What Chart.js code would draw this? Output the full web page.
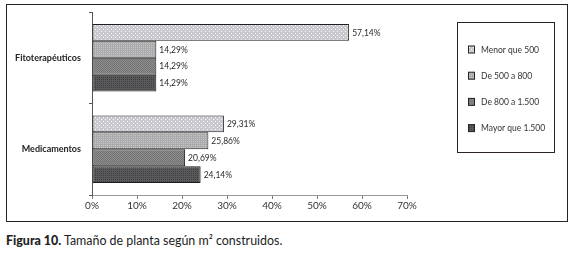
<!DOCTYPE html>
<html><head><meta charset="utf-8">
<script src="https://cdn.jsdelivr.net/npm/chart.js@4.4.1/dist/chart.umd.min.js"></script>
<style>
html,body{margin:0;padding:0;background:#fff;width:572px;height:254px;overflow:hidden}
#frame{position:absolute;left:6px;top:4px;width:560px;height:216px;border:1px solid #2a2226}
#cap{position:absolute;left:6px;top:232px;font-family:Lato,"Open Sans",sans-serif;font-size:13.5px;color:#222;white-space:nowrap;transform:scaleX(0.92);transform-origin:left top}
#cap b{font-weight:900}
</style></head>
<body>
<div id="frame"><canvas id="c" width="560" height="216"></canvas></div>
<div id="cap"><b>Figura 10.</b> Tamaño de planta según m² construidos.</div>
<script>
const categories = ["Fitoterapéuticos", "Medicamentos"];
const seriesNames = ["Menor que 500", "De 500 a 800", "De 800 a 1.500", "Mayor que 1.500"];
const menorQue500 = [57.14, 29.31];
const de500a800 = [14.29, 25.86];
const de800a1500 = [14.29, 20.69];
const mayorQue1500 = [14.29, 24.14];
const xTicks = [0, 10, 20, 30, 40, 50, 60, 70];

function pattern(base, dot, cells) {
  const p = document.createElement('canvas');
  p.width = 4; p.height = 4;
  const g = p.getContext('2d');
  g.fillStyle = base; g.fillRect(0, 0, 4, 4);
  g.fillStyle = dot;
  cells.forEach(([x, y]) => g.fillRect(x, y, 1, 1));
  return g.createPattern(p, 'repeat');
}
const ctx0 = document.getElementById('c').getContext('2d');
const fills = [
  pattern('#c8c8ce', '#ffffff', [[0,0],[2,2]]),
  pattern('#aaaaac', '#c8c8ca', [[0,0],[2,0],[0,2],[2,2]]),
  pattern('#8e8e8e', '#727274', [[0,0],[2,0],[1,1],[3,1],[0,2],[2,2],[1,3],[3,3]]),
  pattern('#5a5a5c', '#3c3c3e', [[0,0],[2,0],[0,2],[2,2]])
];
const seriesValues = [menorQue500, de500a800, de800a1500, mayorQue1500];

const fmt = v => v.toFixed(2).replace('.', ',') + '%';

const labelPlugin = {
  id: 'valueLabels',
  afterDatasetsDraw(chart) {
    const c = chart.ctx;
    c.save();
    c.font = '8.5px Lato, "Open Sans", sans-serif';
    c.fillStyle = '#2a2a2a';
    c.textBaseline = 'middle';
    c.textAlign = 'left';
    chart.data.datasets.forEach((ds, i) => {
      chart.getDatasetMeta(i).data.forEach((bar, j) => {
        c.fillText(fmt(ds.data[j]), bar.x + 3, bar.y + 0.5);
      });
    });
    c.restore();
  }
};

const legendPlugin = {
  id: 'boxLegend',
  afterDraw(chart) {
    const c = chart.ctx;
    const bx = 450, by = 17, bw = 97, bh = 130;
    c.save();
    c.strokeStyle = '#2a2226';
    c.lineWidth = 1;
    c.strokeRect(bx + 0.5, by + 0.5, bw, bh);
    c.font = '8.5px Lato, "Open Sans", sans-serif';
    c.textBaseline = 'middle';
    chart.data.datasets.forEach((ds, i) => {
      const cy = by + 27.5 + i * 26.2;
      c.fillStyle = ds.backgroundColor;
      c.fillRect(bx + 11, cy - 3.5, 7, 7);
      c.strokeStyle = '#222';
      c.strokeRect(bx + 11.5, cy - 3.5, 6, 7);
      c.fillStyle = '#333';
      c.fillText(ds.label, bx + 24, cy + 0.5);
    });
    c.restore();
  }
};

new Chart(ctx0, {
  type: 'bar',
  data: {
    labels: categories,
    datasets: seriesNames.map((n, i) => ({
      label: n,
      data: seriesValues[i],
      backgroundColor: fills[i],
      borderColor: '#1e1e1e',
      borderWidth: 1,
      borderSkipped: false,
      categoryPercentage: 0.74,
      barPercentage: 1.0
    }))
  },
  options: {
    indexAxis: 'y',
    responsive: false,
    animation: false,
    devicePixelRatio: 1,
    layout: { padding: { top: 7, right: 160, left: 0, bottom: 0 } },
    plugins: { legend: { display: false }, tooltip: { enabled: false } },
    scales: {
      x: {
        min: 0, max: 70,
        afterBuildTicks(scale) { scale.ticks = xTicks.map(v => ({ value: v })); },
        afterFit(scale) { scale.height = 26; },
        ticks: {
          callback: v => v + '%',
          font: { family: 'Lato, "Open Sans", sans-serif', size: 10 },
          color: '#333',
          padding: 1,
          maxRotation: 0
        },
        grid: { drawOnChartArea: false, tickLength: 4, color: '#777' },
        border: { color: '#999', width: 1 }
      },
      y: {
        afterFit(scale) { scale.width = 85; scale.paddingTop = 0; scale.paddingBottom = 0; },
        ticks: {
          font: { family: 'Lato, "Open Sans", sans-serif', size: 9, weight: 'bold' },
          color: '#222',
          padding: 8
        },
        grid: { drawOnChartArea: false, tickLength: 3, color: '#555', offset: true },
        border: { color: '#555', width: 1 }
      }
    }
  },
  plugins: [labelPlugin, legendPlugin]
});
</script>
</body></html>
